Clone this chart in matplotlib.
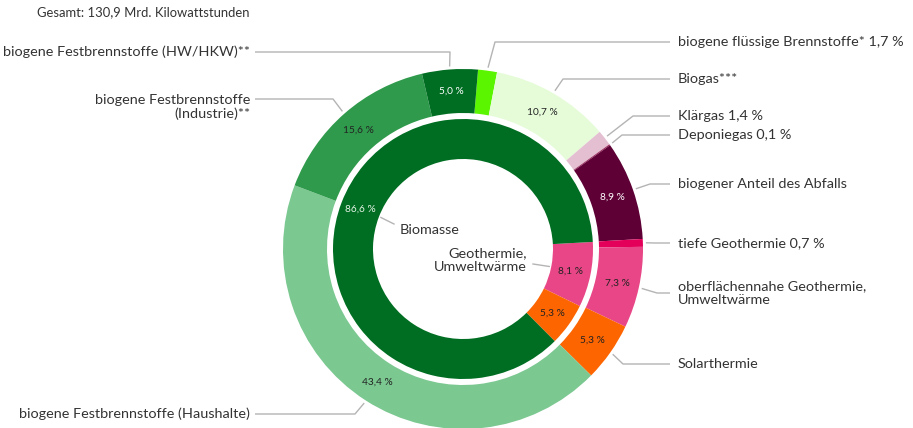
import matplotlib
matplotlib.use('Agg')

import numpy as np
import matplotlib.pyplot as plt

# Äußerer Ring (im Uhrzeigersinn, beginnend kurz rechts von 12 Uhr)
outer_names = ['biogene flüssige Brennstoffe', 'Biogas', 'Klärgas', 'Deponiegas',
               'biogener Anteil des Abfalls', 'tiefe Geothermie',
               'oberflächennahe Geothermie', 'Solarthermie',
               'Festbrennstoffe Haushalte', 'Festbrennstoffe Industrie',
               'Festbrennstoffe HW/HKW']
outer_values = [1.7, 10.7, 1.4, 0.1, 8.9, 0.7, 7.3, 5.3, 43.4, 15.6, 5.0]
outer_colors = ['#5cf500', '#e6fcd9', '#e3bfd1', '#9c2a5c', '#5e0035', '#e4005a',
                '#e84686', '#fd6500', '#7bc891', '#2f9a4c', '#006e22']

# Innerer Ring
inner_names = ['Geothermie, Umweltwärme', 'Solarthermie', 'Biomasse']
inner_values = [8.1, 5.3, 86.6]
inner_colors = ['#e84686', '#fd6500', '#006e22']

# Beschriftungen außen
outer_texts = ['biogene flüssige Brennstoffe* 1,7 %', 'Biogas***', 'Klärgas 1,4 %',
               'Deponiegas 0,1 %', 'biogener Anteil des Abfalls', 'tiefe Geothermie 0,7 %',
               'oberflächennahe Geothermie,\nUmweltwärme', 'Solarthermie',
               'biogene Festbrennstoffe (Haushalte)',
               'biogene Festbrennstoffe\n(Industrie)**',
               'biogene Festbrennstoffe (HW/HKW)**']
# Linienhöhe, Texthöhe und Knickpunkt in Pixeln (von oben)
line_y = [42, 79, 116, 135, 184, 243, 293, 364, 414, 99, 52]
text_y = [42, 79, 116, 135, 184, 243, 293, 364, 414, 107, 52]
elbow_x = [495, 563, 633, 622, 650, 655, 657, 623, 355, 333, 450]
outer_pct_show = [False, True, False, False, True, False, True, True, True, True, True]
outer_pct_white = [False, False, False, False, True, False, False, False, False, False, True]
inner_pct_white = [False, False, True]

H = 428
CX, CY = 463, H - 249
R_OUT, W_OUT = 180, 44
R_IN, W_IN = 130, 40
START = 85.2

TEXT = '#333333'
LINE = '#b4b4b4'
FONT = 'Lato'
FS = 10.4


def pct(v):
    return f'{v:.1f}'.replace('.', ',') + ' %'


def polar(theta, r):
    t = np.deg2rad(theta)
    return CX + r * np.cos(t), CY + r * np.sin(t)


fig = plt.figure(figsize=(9.13, 4.28), dpi=100)
fig.patch.set_facecolor('white')
ax = fig.add_axes([0, 0, 1, 1])

outer_wedges, _ = ax.pie(outer_values, colors=outer_colors, radius=R_OUT, center=(CX, CY),
                         startangle=START, counterclock=False, frame=True,
                         wedgeprops=dict(width=W_OUT, linewidth=0))
inner_start = START - sum(outer_values[:5]) * 3.6
inner_wedges, _ = ax.pie(inner_values, colors=inner_colors, radius=R_IN, center=(CX, CY),
                         startangle=inner_start, counterclock=False, frame=True,
                         wedgeprops=dict(width=W_IN, linewidth=0))

ax.set_xlim(0, 913)
ax.set_ylim(0, H)
ax.set_aspect('equal')
ax.axis('off')

# Prozentwerte
for w, v, show, white in zip(outer_wedges, outer_values, outer_pct_show, outer_pct_white):
    if not show:
        continue
    x, y = polar((w.theta1 + w.theta2) / 2, R_OUT - W_OUT / 2)
    ax.text(x, y, pct(v), ha='center', va='center', fontsize=7.3, family=FONT,
            color='white' if white else '#222222')
for w, v, white in zip(inner_wedges, inner_values, inner_pct_white):
    x, y = polar((w.theta1 + w.theta2) / 2, R_IN - W_IN / 2)
    ax.text(x, y, pct(v), ha='center', va='center', fontsize=7.3, family=FONT,
            color='#e4f2e4' if white else '#222222')

# Führungslinien und Beschriftungen außen
for w, txt, ly, ty, ex in zip(outer_wedges, outer_texts, line_y, text_y, elbow_x):
    ax_, ay = polar((w.theta1 + w.theta2) / 2, R_OUT + 3)
    yy = H - ly
    right = ax_ > CX
    end_x = 670 if right else 255
    ax.plot([ax_, ex, end_x], [ay, yy, yy], color=LINE, lw=1, solid_capstyle='butt')
    ax.text(end_x + 8 if right else end_x - 5, H - ty, txt, ha='left' if right else 'right',
            va='center', fontsize=FS, family=FONT, color=TEXT, linespacing=1.2,
            multialignment='left' if right else 'right')

# Beschriftungen innen
bx, by = polar((inner_wedges[2].theta1 + inner_wedges[2].theta2) / 2, R_IN - W_IN - 2)
ax.plot([bx, 394], [by, H - 224], color=LINE, lw=1)
ax.text(400, H - 230, 'Biomasse', ha='left', va='center', fontsize=FS,
        family=FONT, color=TEXT)
gx, gy = polar((inner_wedges[0].theta1 + inner_wedges[0].theta2) / 2, R_IN - W_IN - 2)
ax.plot([533, gx], [H - 264, gy], color=LINE, lw=1)
ax.text(527, H - 260, 'Geothermie,\nUmweltwärme', ha='right', va='center', fontsize=FS,
        family=FONT, color=TEXT, linespacing=1.2, multialignment='right')

ax.text(37, H - 12, 'Gesamt: 130,9 Mrd. Kilowattstunden', ha='left', va='center',
        fontsize=9.4, family=FONT, color=TEXT)

fig.savefig('out.png', dpi=100, facecolor='white')
plt.close(fig)
